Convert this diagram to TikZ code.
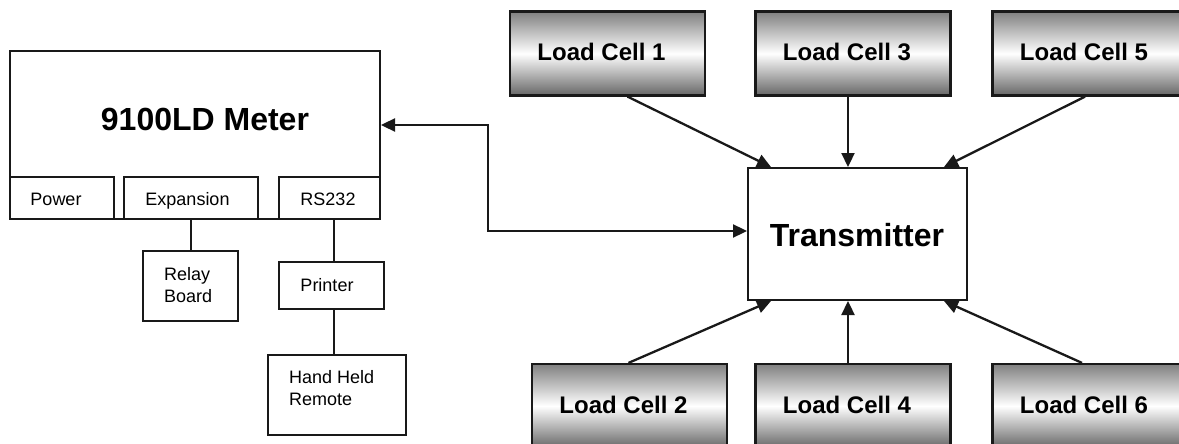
\documentclass[tikz,border=0pt]{standalone}
\usepackage{fontspec}
\setmainfont{Liberation Sans}
\usetikzlibrary{arrows.meta}
\begin{document}
\begin{tikzpicture}[x=1pt,y=-1pt,
  box/.style={draw=black!90,line width=2pt,fill=white,inner sep=0pt,rectangle},
  lcell/.style={draw=black!90,line width=2.2pt,inner sep=0pt,rectangle,
    minimum width=195pt,minimum height=84pt,
    top color=black!50,bottom color=black!60,middle color=white},
  big/.style={font=\fontsize{32}{38}\selectfont\bfseries,inner sep=0pt,anchor=base},
  mid/.style={font=\fontsize{24}{28}\selectfont\bfseries,inner sep=0pt,anchor=base},
  small/.style={font=\fontsize{18}{21.5}\selectfont,inner sep=0pt},
  wire/.style={line width=2.3pt,draw=black!90},
  arr/.style={wire,-{Triangle[length=14pt,width=13pt]}},
  darr/.style={wire,{Triangle[length=14pt,width=13pt]}-{Triangle[length=14pt,width=13pt]}}
]
\useasboundingbox (0,0) rectangle (1179,444);
\clip (0,0) rectangle (1179,444);

% meter
\node[box,minimum width=370.5pt,minimum height=168pt] (meter) at (194.75,135) {};
\node[big] (title) at (205,130) {9100LD Meter};
\node[box,minimum width=104.5pt,minimum height=42pt] (power) at (61.75,198) {};
\node[box,minimum width=134pt,minimum height=42pt] (exp) at (191,198) {};
\node[box,minimum width=101pt,minimum height=42pt] (rs) at (329.5,198) {};
\node[small,anchor=base] (tpower) at (56,205.7) {Power};
\node[small,anchor=base] (texp) at (187.5,205.7) {Expansion};
\node[small,anchor=base] (trs) at (328,205.7) {RS232};

% peripherals
\node[box,minimum width=95pt,minimum height=70pt] (relay) at (190.5,286) {};
\node[small,anchor=base west] (trelay1) at (164,280) {Relay};
\node[small,anchor=base west] (trelay2) at (164,302) {Board};
\node[box,minimum width=105pt,minimum height=47pt] (printer) at (331.5,285.5) {};
\node[small,anchor=base] (tprinter) at (327,291.7) {Printer};
\node[box,minimum width=138pt,minimum height=80pt] (hh) at (337,395) {};
\node[small,anchor=base west] (thh1) at (289,383) {Hand Held};
\node[small,anchor=base west] (thh2) at (289,405) {Remote};

\draw[wire] (exp.south) -- (exp.south |- relay.north);
\draw[wire] ([xshift=4.5pt]rs.south) -- ([xshift=4.5pt]rs.south |- printer.north);
\draw[wire] ([xshift=2.5pt]printer.south) -- ([xshift=2.5pt]printer.south |- hh.north);

% transmitter
\node[box,minimum width=219pt,minimum height=132pt] (tx) at (857.5,234) {};
\node[big] (ttx) at (857,246.7) {Transmitter};

% load cells
\node[lcell] (lc1) at (607.5,53.5) {};
\node[lcell] (lc3) at (853,53.5) {};
\node[lcell] (lc5) at (1090,53.5) {};
\node[lcell] (lc2) at (629.5,406) {};
\node[lcell] (lc4) at (853,406) {};
\node[lcell] (lc6) at (1090,406) {};
\node[mid] (t1) at ([xshift=-6pt]lc1.center |- 0,61) {Load Cell 1};
\node[mid] (t3) at ([xshift=-6pt]lc3.center |- 0,61) {Load Cell 3};
\node[mid] (t5) at ([xshift=-6pt]lc5.center |- 0,61) {Load Cell 5};
\node[mid] (t2) at ([xshift=-6pt]lc2.center |- 0,413) {Load Cell 2};
\node[mid] (t4) at ([xshift=-6pt]lc4.center |- 0,413) {Load Cell 4};
\node[mid] (t6) at ([xshift=-6pt]lc6.center |- 0,413) {Load Cell 6};

% arrows from load cells
\draw[arr] ([xshift=20pt]lc1.south) -- ([xshift=24pt]tx.north west);
\draw[arr] ([xshift=-5pt]lc3.south) -- ([xshift=-9.5pt]tx.north);
\draw[arr] ([xshift=-5pt]lc5.south) -- ([xshift=-24pt]tx.north east);
\draw[arr] ([xshift=-1pt]lc2.north) -- ([xshift=24pt]tx.south west);
\draw[arr] ([xshift=-5pt]lc4.north) -- ([xshift=-9.5pt]tx.south);
\draw[arr] ([xshift=-8pt]lc6.north) -- ([xshift=-24pt]tx.south east);

% meter <-> transmitter
\coordinate (j1) at (488,125);
\coordinate (j2) at (488,231);
\draw[darr] ([yshift=10pt]meter.east) -- (j1) -- (j2) -- ([yshift=3pt]tx.west);
\end{tikzpicture}
\end{document}
